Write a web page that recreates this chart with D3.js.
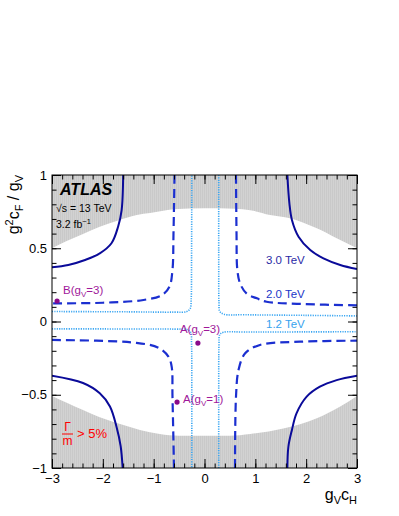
<!DOCTYPE html>
<html>
<head>
<meta charset="utf-8">
<script src="https://cdn.jsdelivr.net/npm/d3@7"></script>
<style>
  body { margin: 0; background: #fff; }
  text { font-family: "Liberation Sans", Arial, Helvetica, sans-serif; }
</style>
</head>
<body>
<div id="chart"></div>
<script>
// contour branches, [gV cH, g^2 cF / gV]
var solidUR = [[1.63,1.0],[1.67,0.807],[1.72,0.693],[1.85,0.579],[2.08,0.488],[2.34,0.431],[2.67,0.386],[3.0,0.358]];
var solidUL = [[-1.60,1.0],[-1.63,0.761],[-1.70,0.647],[-1.83,0.534],[-2.06,0.465],[-2.35,0.42],[-2.68,0.386],[-3.0,0.37]];
var solidLL = [[-3.0,-0.37],[-2.39,-0.42],[-2.06,-0.49],[-1.86,-0.58],[-1.73,-0.72],[-1.65,-0.85],[-1.61,-1.0]];
var solidLR = [[1.63,-1.0],[1.65,-0.855],[1.72,-0.74],[1.81,-0.627],[2.01,-0.513],[2.27,-0.445],[2.60,-0.40],[3.0,-0.37]];

var dashUR = [[0.62,1.0],[0.63,0.6],[0.646,0.352],[0.70,0.26],[0.83,0.19],[1.03,0.158],[1.22,0.135],[1.88,0.12],[3.0,0.11]];
var dashUL = [[-0.59,1.0],[-0.61,0.6],[-0.63,0.352],[-0.69,0.237],[-0.84,0.18],[-1.2,0.147],[-2.0,0.128],[-3.0,0.124]];
var dashLL = [[-3.0,-0.126],[-1.36,-0.145],[-0.9,-0.18],[-0.71,-0.24],[-0.645,-0.31],[-0.63,-0.51],[-0.60,-1.0]];
var dashLR = [[0.60,-1.0],[0.62,-0.51],[0.67,-0.33],[0.80,-0.217],[1.09,-0.16],[1.88,-0.138],[3.0,-0.131]];

var dotUL = [[-3.0,0.068],[-1.5,0.066],[-0.6,0.064],[-0.35,0.068],[-0.28,0.09],[-0.262,0.15],[-0.255,0.4],[-0.25,1.0]];
var dotUR = [[0.28,1.0],[0.28,0.4],[0.285,0.13],[0.30,0.07],[0.38,0.05],[0.8,0.046],[2.0,0.042],[3.0,0.038]];
var dotLL = [[-3.0,-0.05],[-1.5,-0.051],[-0.6,-0.052],[-0.33,-0.056],[-0.27,-0.075],[-0.255,-0.15],[-0.25,-0.5],[-0.25,-1.0]];
var dotLR = [[0.28,-1.0],[0.28,-0.5],[0.285,-0.16],[0.30,-0.09],[0.37,-0.074],[0.8,-0.072],[2.0,-0.071],[3.0,-0.07]];

// Gamma/m > 5% excluded region boundaries
var greyTopX = [-3,-2.71,-2.39,-2.06,-1.73,-1.33,-1.07,-0.61,0,0.6,0.9,1.29,1.68,2.21,2.6,3];
var greyTopY = [0.50,0.55,0.597,0.647,0.686,0.727,0.74,0.766,0.773,0.77,0.76,0.727,0.705,0.636,0.568,0.50];
var greyBotX = [-3,-2.71,-2.39,-2.06,-1.66,-1.27,-0.88,-0.5,0,0.5,0.9,1.55,2.21,2.67,3];
var greyBotY = [-0.508,-0.554,-0.604,-0.654,-0.70,-0.74,-0.768,-0.78,-0.78,-0.78,-0.768,-0.73,-0.66,-0.58,-0.508];

// benchmark models
var pointX = [-2.9, -0.13, -0.54];
var pointY = [0.14, -0.147, -0.55];
var pointName = ["B", "A", "A"];
var pointGv = ["3", "3", "1"];

var contourLabels = ["3.0 TeV", "2.0 TeV", "1.2 TeV"];
var xTicks = [-3,-2,-1,0,1,2,3];
var yTicks = [-1,-0.5,0,0.5,1];

var W = 399, H = 516;
var margin = {top: 175, right: 42, bottom: 48, left: 52}
    , width = W - margin.left - margin.right
    , height = H - margin.top - margin.bottom;

var xScale = d3.scaleLinear().domain([-3, 3]).range([0, width]);
var yScale = d3.scaleLinear().domain([-1, 1]).range([height, 0]);

var svg = d3.select("#chart").append("svg")
    .attr("width", W).attr("height", H);

var defs = svg.append("defs");
defs.append("clipPath").attr("id", "plot-clip")
    .append("rect").attr("width", width).attr("height", height);
var pat = defs.append("pattern").attr("id", "grey-fill")
    .attr("patternUnits", "userSpaceOnUse").attr("width", 2).attr("height", 2);
pat.append("rect").attr("width", 2).attr("height", 2).attr("fill", "#c9c9c9");
pat.append("rect").attr("x", 1).attr("width", 1).attr("height", 2).attr("fill", "#d2d2d2");

var g = svg.append("g")
    .attr("transform", "translate(" + margin.left + "," + margin.top + ")");
var plot = g.append("g").attr("clip-path", "url(#plot-clip)");

// excluded regions
var topArea = d3.area()
    .x(function(d) { return xScale(d[0]); })
    .y0(yScale(1))
    .y1(function(d) { return yScale(d[1]); })
    .curve(d3.curveMonotoneX);
var botArea = d3.area()
    .x(function(d) { return xScale(d[0]); })
    .y0(yScale(-1))
    .y1(function(d) { return yScale(d[1]); })
    .curve(d3.curveMonotoneX);

plot.append("path").datum(d3.zip(greyTopX, greyTopY))
    .attr("d", topArea).attr("fill", "url(#grey-fill)");
plot.append("path").datum(d3.zip(greyBotX, greyBotY))
    .attr("d", botArea).attr("fill", "url(#grey-fill)");

// contours
var valueLine = d3.line()
    .x(function(d) { return xScale(d[0]); })
    .y(function(d) { return yScale(d[1]); })
    .curve(d3.curveCatmullRom.alpha(0.5));

var styles = [
    {branches: [solidUR, solidUL, solidLL, solidLR], color: "#0a0a99", w: 2, dash: null},
    {branches: [dashUR, dashUL, dashLL, dashLR], color: "#1b2fd0", w: 2.2, dash: "9,5"},
    {branches: [dotUL, dotUR, dotLL, dotLR], color: "#3aa6f2", w: 1.6, dash: "1.2,1.2"}
];
styles.forEach(function(s) {
    s.branches.forEach(function(b) {
        plot.append("path").datum(b)
            .attr("d", valueLine)
            .attr("fill", "none")
            .attr("stroke", s.color)
            .attr("stroke-width", s.w)
            .attr("stroke-dasharray", s.dash);
    });
});

// contour labels
var labelColors = ["#2a2aa6", "#2036c8", "#36a2ee"];
var labelY = [88.5, 122.5, 152.5];
contourLabels.forEach(function(t, i) {
    g.append("text").attr("x", 214).attr("y", labelY[i])
        .attr("font-size", 11.5).attr("fill", labelColors[i]).text(t);
});

// benchmark points
var labOff = [[6, -7], [-18, -10], [6, 1]];
pointX.forEach(function(px, i) {
    var cx = xScale(px), cy = yScale(pointY[i]);
    g.append("circle").attr("cx", cx).attr("cy", cy).attr("r", 2.6).attr("fill", "#8a0a8a");
    var t = g.append("text").attr("x", cx + labOff[i][0]).attr("y", cy + labOff[i][1])
        .attr("font-size", 11.5).attr("fill", "#a0189a");
    t.append("tspan").text(pointName[i] + "(g");
    t.append("tspan").attr("font-size", 8).attr("dy", 3).text("V");
    t.append("tspan").attr("dy", -3).text("=" + pointGv[i] + ")");
});

// axes, ticks inward on all four sides
var minorX = d3.range(-3, 3.001, 0.2);
var minorY = d3.range(-1, 1.001, 0.1);
function styleAxis(sel) {
    sel.select(".domain").remove();
    sel.selectAll("line").attr("stroke", "#000");
    sel.selectAll("text").attr("font-size", 13).attr("fill", "#000")
        .attr("font-family", "Liberation Sans, Arial, sans-serif");
}
var fmt = d3.format("~g");
g.append("g").attr("transform", "translate(0," + height + ")")
    .call(d3.axisBottom(xScale).tickValues(xTicks).tickSize(-9).tickPadding(6).tickFormat(fmt)).call(styleAxis);
g.append("g").attr("transform", "translate(0," + height + ")")
    .call(d3.axisBottom(xScale).tickValues(minorX).tickSize(-4.5).tickFormat("")).call(styleAxis);
g.append("g")
    .call(d3.axisTop(xScale).tickValues(xTicks).tickSize(-9).tickFormat("")).call(styleAxis);
g.append("g")
    .call(d3.axisTop(xScale).tickValues(minorX).tickSize(-4.5).tickFormat("")).call(styleAxis);
g.append("g")
    .call(d3.axisLeft(yScale).tickValues(yTicks).tickSize(-9).tickPadding(5).tickFormat(fmt)).call(styleAxis);
g.append("g")
    .call(d3.axisLeft(yScale).tickValues(minorY).tickSize(-4.5).tickFormat("")).call(styleAxis);
g.append("g").attr("transform", "translate(" + width + ",0)")
    .call(d3.axisRight(yScale).tickValues(yTicks).tickSize(-9).tickFormat("")).call(styleAxis);
g.append("g").attr("transform", "translate(" + width + ",0)")
    .call(d3.axisRight(yScale).tickValues(minorY).tickSize(-4.5).tickFormat("")).call(styleAxis);

g.append("rect").attr("width", width).attr("height", height)
    .attr("fill", "none").attr("stroke", "#000").attr("stroke-width", 1);

// axis titles
var xt = g.append("text").attr("x", width).attr("y", height + 32)
    .attr("text-anchor", "end").attr("font-size", 16);
xt.append("tspan").text("g");
xt.append("tspan").attr("font-size", 11).attr("dy", 4).text("V");
xt.append("tspan").attr("dy", -4).text("c");
xt.append("tspan").attr("font-size", 11).attr("dy", 4).text("H");

var yt = svg.append("text").attr("transform", "translate(19," + margin.top + ") rotate(-90)")
    .attr("text-anchor", "end").attr("font-size", 16);
yt.append("tspan").text("g");
yt.append("tspan").attr("font-size", 11).attr("dy", -6).text("2");
yt.append("tspan").attr("dy", 6).text("c");
yt.append("tspan").attr("font-size", 11).attr("dy", 4).text("F");
yt.append("tspan").attr("dy", -4).text(" / g");
yt.append("tspan").attr("font-size", 11).attr("dy", 4).text("V");

// ATLAS label
g.append("text").attr("x", 8).attr("y", 20).attr("font-size", 16)
    .attr("font-weight", "bold").attr("font-style", "italic").text("ATLAS");
var sq = g.append("text").attr("x", 4).attr("y", 37).attr("font-size", 10.5);
sq.append("tspan").text("\u221As = 13 TeV");
var lu = g.append("text").attr("x", 4).attr("y", 53).attr("font-size", 10.5);
lu.append("tspan").text("3.2 fb");
lu.append("tspan").attr("font-size", 7.5).attr("dy", -4).text("\u22121");

// width label
var gm = g.append("g");
gm.append("text").attr("x", 15.5).attr("y", 256).attr("text-anchor", "middle")
    .attr("font-size", 12).attr("fill", "#ff0000").text("\u0393");
gm.append("line").attr("x1", 10).attr("x2", 21).attr("y1", 259).attr("y2", 259)
    .attr("stroke", "#ff0000").attr("stroke-width", 1);
gm.append("text").attr("x", 15.5).attr("y", 270).attr("text-anchor", "middle")
    .attr("font-size", 12).attr("fill", "#ff0000").text("m");
gm.append("text").attr("x", 25).attr("y", 263).attr("font-size", 13)
    .attr("fill", "#ff0000").text("> 5%");
</script>
</body>
</html>
